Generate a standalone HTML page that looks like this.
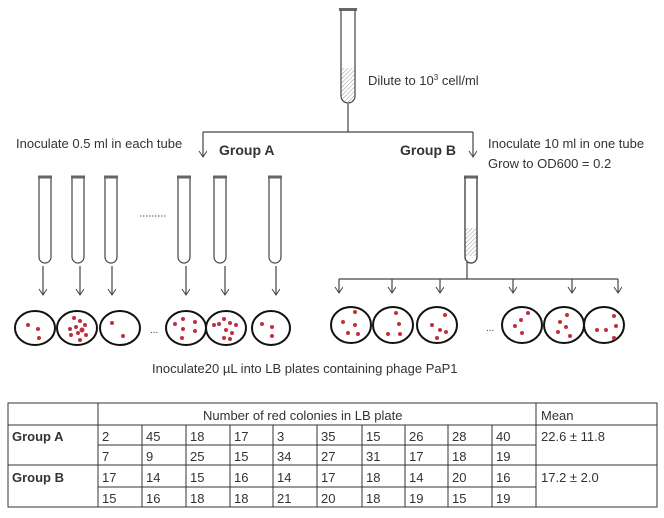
<!DOCTYPE html>
<html><head><meta charset="utf-8"><style>
body{margin:0;background:#fff;}
svg text{font-family:"Liberation Sans",sans-serif;fill:#333;}
</style></head><body>
<svg width="664" height="513" viewBox="0 0 664 513" xmlns="http://www.w3.org/2000/svg">
<defs>
<pattern id="h" width="3" height="3" patternUnits="userSpaceOnUse" patternTransform="rotate(45)"><line x1="0" y1="0" x2="0" y2="3" stroke="#999" stroke-width="1"/></pattern>
<marker id="a" markerWidth="10" markerHeight="10" refX="7" refY="4" orient="auto" markerUnits="userSpaceOnUse"><path d="M1,0 L7,4 L1,8" fill="none" stroke="#444" stroke-width="1"/></marker>
<g id="tube"><path d="M-6,0 V80 A6,6 0 0 0 6,80 V0" fill="#fff" stroke="#444" stroke-width="1.2"/><rect x="-7" y="-1.5" width="14" height="3" fill="#666"/></g>
</defs>
<!-- top tube -->
<path d="M341,68 H355 V96 A7,7 0 0 1 341,96 Z" fill="url(#h)"/>
<path d="M341,10 V96 A7,7 0 0 0 355,96 V10" fill="none" stroke="#444" stroke-width="1.2"/>
<rect x="339" y="8" width="18" height="3" fill="#666"/>
<text x="368" y="85" font-size="13">Dilute to 10<tspan font-size="8" dy="-5">3</tspan><tspan dy="5"> cell/ml</tspan></text>
<g stroke="#444" stroke-width="1.2" fill="none">
<line x1="348" y1="104" x2="348" y2="132"/>
<line x1="203" y1="132" x2="473" y2="132"/>
<line x1="203" y1="132" x2="203" y2="157" marker-end="url(#a)"/>
<line x1="473" y1="132" x2="473" y2="157" marker-end="url(#a)"/>
</g>
<text x="16" y="148" font-size="13">Inoculate 0.5 ml in each tube</text>
<text x="219" y="155" font-size="14" font-weight="bold">Group A</text>
<text x="400" y="155" font-size="14" font-weight="bold">Group B</text>
<text x="488" y="148" font-size="13">Inoculate 10 ml in one tube</text>
<text x="488" y="168" font-size="13">Grow to OD600 = 0.2</text>
<!-- tubes -->
<g>
<rect x="39" y="248" width="12" height="8" fill="url(#h)"/><use href="#tube" x="45" y="177"/>
<rect x="72" y="248" width="12" height="8" fill="url(#h)"/><use href="#tube" x="78" y="177"/>
<rect x="105" y="248" width="12" height="8" fill="url(#h)"/><use href="#tube" x="111" y="177"/>
<rect x="178" y="248" width="12" height="8" fill="url(#h)"/><use href="#tube" x="184" y="177"/>
<rect x="214" y="248" width="12" height="8" fill="url(#h)"/><use href="#tube" x="220" y="177"/>
<rect x="269" y="248" width="12" height="8" fill="url(#h)"/><use href="#tube" x="275" y="177"/>
<use href="#tube" x="471" y="177"/>
<rect x="465" y="228" width="12" height="28" fill="url(#h)"/>
<path d="M465,177 V257 A6,6 0 0 0 477,257 V177" fill="none" stroke="#444" stroke-width="1.2"/>
</g>
<line x1="140" y1="216" x2="167" y2="216" stroke="#555" stroke-dasharray="1.5,1.5"/>
<g stroke="#444" stroke-width="1.2" fill="none">
<line x1="43" y1="266" x2="43" y2="295" marker-end="url(#a)"/>
<line x1="80" y1="266" x2="80" y2="295" marker-end="url(#a)"/>
<line x1="112" y1="266" x2="112" y2="295" marker-end="url(#a)"/>
<line x1="186" y1="266" x2="186" y2="295" marker-end="url(#a)"/>
<line x1="225" y1="266" x2="225" y2="295" marker-end="url(#a)"/>
<line x1="276" y1="266" x2="276" y2="295" marker-end="url(#a)"/>
<line x1="467" y1="262" x2="467" y2="279"/>
<line x1="339" y1="279" x2="618" y2="279"/>
<line x1="339" y1="279" x2="339" y2="293" marker-end="url(#a)"/>
<line x1="392" y1="279" x2="392" y2="293" marker-end="url(#a)"/>
<line x1="440" y1="279" x2="440" y2="293" marker-end="url(#a)"/>
<line x1="513" y1="279" x2="513" y2="293" marker-end="url(#a)"/>
<line x1="572" y1="279" x2="572" y2="293" marker-end="url(#a)"/>
<line x1="618" y1="279" x2="618" y2="293" marker-end="url(#a)"/>
</g>
<!-- plates -->
<g fill="none" stroke="#111" stroke-width="2">
<ellipse cx="35" cy="328" rx="20" ry="17"/><ellipse cx="77" cy="328" rx="20" ry="17"/><ellipse cx="120" cy="328" rx="20" ry="17"/>
<ellipse cx="186" cy="328" rx="20" ry="17"/><ellipse cx="226" cy="328" rx="20" ry="17"/><ellipse cx="271" cy="328" rx="19" ry="17"/>
<ellipse cx="351" cy="325" rx="20" ry="18"/><ellipse cx="393" cy="325" rx="20" ry="18"/><ellipse cx="437" cy="325" rx="20" ry="18"/>
<ellipse cx="522" cy="325" rx="20" ry="18"/><ellipse cx="564" cy="325" rx="20" ry="18"/><ellipse cx="604" cy="325" rx="20" ry="18"/>
</g>
<g fill="#c0303a">
<circle cx="28" cy="325" r="2"/><circle cx="38" cy="329" r="2"/><circle cx="39" cy="338" r="2"/>
<circle cx="74" cy="318" r="2"/><circle cx="80" cy="321" r="2"/><circle cx="70" cy="329" r="2"/><circle cx="76" cy="327" r="2"/><circle cx="82" cy="330" r="2.5"/><circle cx="85" cy="325" r="2"/><circle cx="71" cy="335" r="2"/><circle cx="80" cy="340" r="2"/><circle cx="86" cy="335" r="2"/><circle cx="78" cy="333" r="2"/>
<circle cx="112" cy="323" r="2"/><circle cx="123" cy="336" r="2"/>
<circle cx="175" cy="324" r="2"/><circle cx="183" cy="319" r="2"/><circle cx="195" cy="322" r="2"/><circle cx="183" cy="329" r="2"/><circle cx="195" cy="331" r="2"/><circle cx="182" cy="338" r="2"/>
<circle cx="214" cy="325" r="2"/><circle cx="219" cy="324" r="2"/><circle cx="224" cy="319" r="2"/><circle cx="230" cy="323" r="2"/><circle cx="236" cy="325" r="2"/><circle cx="226" cy="330" r="2"/><circle cx="232" cy="333" r="2"/><circle cx="224" cy="338" r="2"/><circle cx="230" cy="339" r="2"/>
<circle cx="262" cy="324" r="2"/><circle cx="272" cy="327" r="2"/><circle cx="272" cy="336" r="2"/>
<circle cx="355" cy="312" r="2"/><circle cx="343" cy="322" r="2"/><circle cx="355" cy="325" r="2"/><circle cx="348" cy="333" r="2"/><circle cx="358" cy="334" r="2"/>
<circle cx="396" cy="313" r="2"/><circle cx="399" cy="324" r="2"/><circle cx="400" cy="334" r="2"/><circle cx="388" cy="334" r="2"/>
<circle cx="445" cy="315" r="2"/><circle cx="432" cy="325" r="2"/><circle cx="440" cy="330" r="2"/><circle cx="446" cy="332" r="2"/><circle cx="437" cy="338" r="2"/>
<circle cx="528" cy="313" r="2"/><circle cx="521" cy="320" r="2"/><circle cx="515" cy="326" r="2"/><circle cx="522" cy="333" r="2"/>
<circle cx="567" cy="315" r="2"/><circle cx="560" cy="322" r="2"/><circle cx="566" cy="327" r="2"/><circle cx="558" cy="332" r="2"/><circle cx="570" cy="336" r="2"/>
<circle cx="614" cy="316" r="2"/><circle cx="597" cy="330" r="2"/><circle cx="606" cy="330" r="2"/><circle cx="616" cy="326" r="2"/><circle cx="614" cy="338" r="2"/>
</g>
<text x="150" y="333" font-size="10">...</text>
<text x="486" y="331" font-size="10">...</text>
<text x="152" y="373" font-size="13">Inoculate20 µL into LB plates containing phage PaP1</text>
<!-- table -->
<g stroke="#333" stroke-width="1" fill="none">
<rect x="8" y="403" width="649" height="104"/>
<line x1="8" y1="425" x2="657" y2="425"/>
<line x1="8" y1="465" x2="657" y2="465"/>
<line x1="98" y1="445" x2="536" y2="445"/>
<line x1="98" y1="487" x2="536" y2="487"/>
<line x1="98" y1="403" x2="98" y2="507"/>
<line x1="536" y1="403" x2="536" y2="507"/>
<line x1="142" y1="425" x2="142" y2="507"/><line x1="186" y1="425" x2="186" y2="507"/><line x1="230" y1="425" x2="230" y2="507"/>
<line x1="273" y1="425" x2="273" y2="507"/><line x1="317" y1="425" x2="317" y2="507"/><line x1="362" y1="425" x2="362" y2="507"/>
<line x1="405" y1="425" x2="405" y2="507"/><line x1="448" y1="425" x2="448" y2="507"/><line x1="492" y1="425" x2="492" y2="507"/>
</g>
<g font-size="13">
<text x="203" y="420">Number of red colonies in LB plate</text>
<text x="541" y="420">Mean</text>
<text x="12" y="441" font-weight="bold">Group A</text>
<text x="12" y="482" font-weight="bold">Group B</text>
<text x="541" y="441">22.6 ± 11.8</text>
<text x="541" y="482">17.2 ± 2.0</text>
<text y="441"><tspan x="102">2</tspan><tspan x="146">45</tspan><tspan x="190">18</tspan><tspan x="234">17</tspan><tspan x="277">3</tspan><tspan x="321">35</tspan><tspan x="366">15</tspan><tspan x="409">26</tspan><tspan x="452">28</tspan><tspan x="496">40</tspan></text>
<text y="461"><tspan x="102">7</tspan><tspan x="146">9</tspan><tspan x="190">25</tspan><tspan x="234">15</tspan><tspan x="277">34</tspan><tspan x="321">27</tspan><tspan x="366">31</tspan><tspan x="409">17</tspan><tspan x="452">18</tspan><tspan x="496">19</tspan></text>
<text y="482"><tspan x="102">17</tspan><tspan x="146">14</tspan><tspan x="190">15</tspan><tspan x="234">16</tspan><tspan x="277">14</tspan><tspan x="321">17</tspan><tspan x="366">18</tspan><tspan x="409">14</tspan><tspan x="452">20</tspan><tspan x="496">16</tspan></text>
<text y="503"><tspan x="102">15</tspan><tspan x="146">16</tspan><tspan x="190">18</tspan><tspan x="234">18</tspan><tspan x="277">21</tspan><tspan x="321">20</tspan><tspan x="366">18</tspan><tspan x="409">19</tspan><tspan x="452">15</tspan><tspan x="496">19</tspan></text>
</g>
</svg>
</body></html>
